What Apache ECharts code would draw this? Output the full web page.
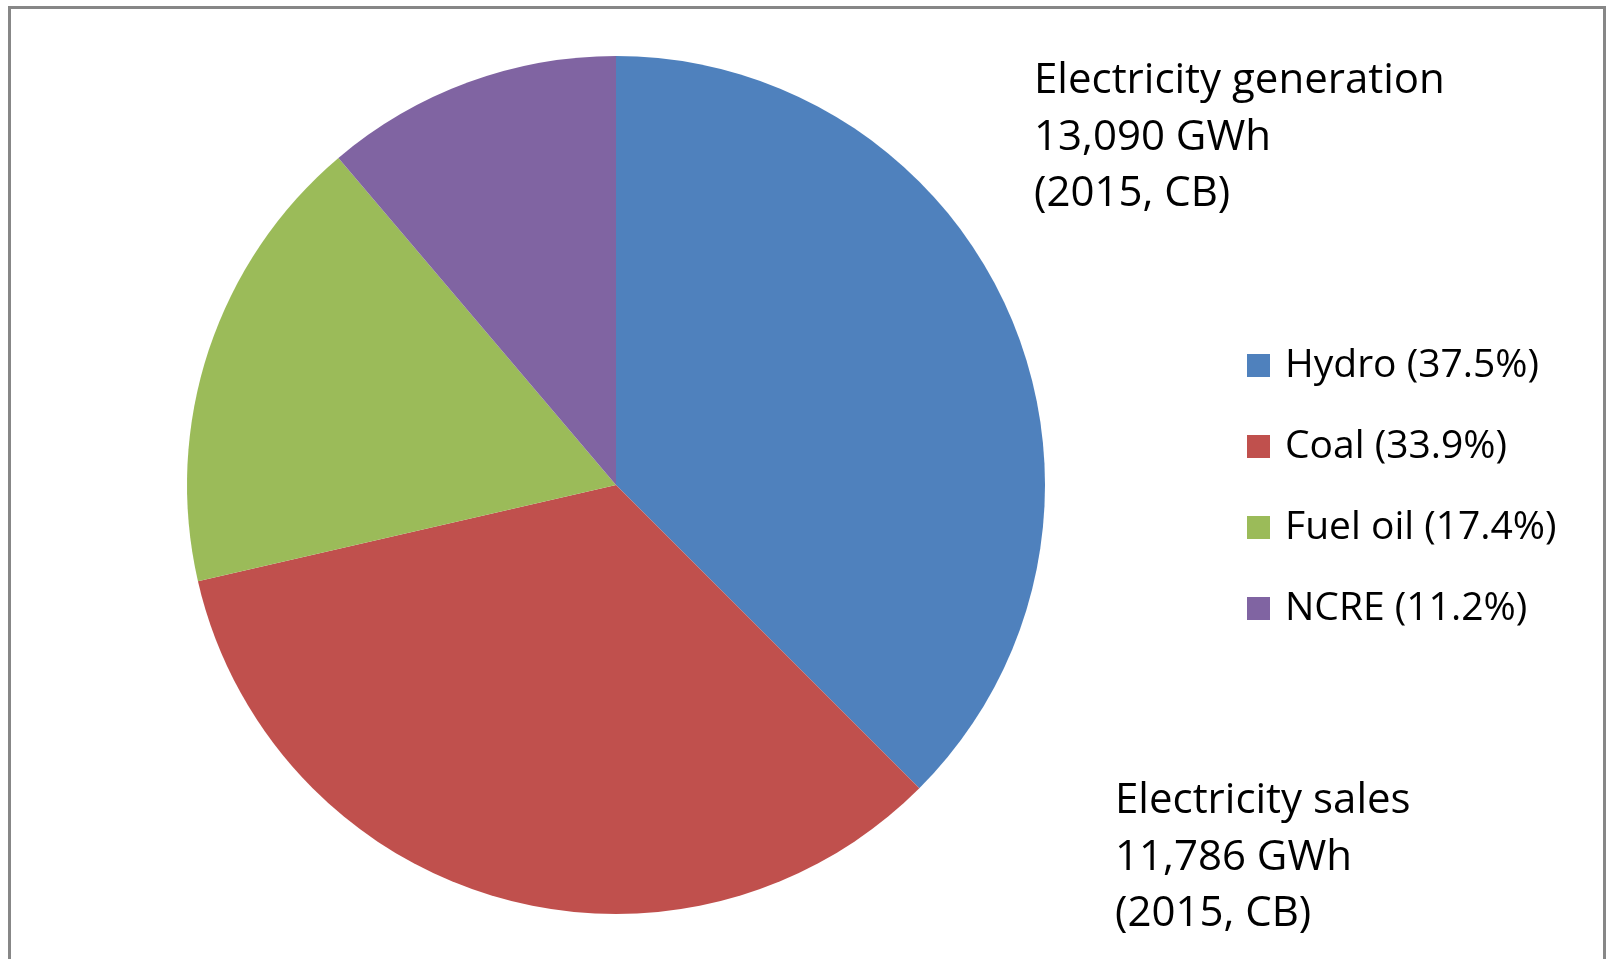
<!DOCTYPE html>
<html>
<head>
<meta charset="utf-8">
<script src="https://cdn.jsdelivr.net/npm/echarts@6/dist/echarts.min.js"></script>
<style>
html,body{margin:0;padding:0;background:#fff;}
#chart{width:1606px;height:959px;}
</style>
</head>
<body>
<div id="chart"></div>
<script>
var categories = ['Hydro', 'Coal', 'Fuel oil', 'NCRE'];
var shares = [37.5, 33.9, 17.4, 11.2];
var colors = ['#4F81BD', '#C0504D', '#9BBB59', '#8064A2'];
var generationNote = ['Electricity generation', '13,090 GWh', '(2015, CB)'];
var salesNote = ['Electricity sales', '11,786 GWh', '(2015, CB)'];

var FONT = 'Open Sans';
var chart = echarts.init(document.getElementById('chart'), null, {renderer: 'canvas'});
var pieData = categories.map(function (c, i) {
  return {name: c, value: shares[i], itemStyle: {color: colors[i]}};
});
chart.setOption({
  animation: false,
  backgroundColor: '#ffffff',
  title: [
    {text: generationNote.join('\n'), left: 1029, top: 48,
     textStyle: {fontFamily: FONT, fontSize: 42, fontWeight: 'normal', color: '#000', lineHeight: 56.5}},
    {text: salesNote.join('\n'), left: 1110, top: 768,
     textStyle: {fontFamily: FONT, fontSize: 42, fontWeight: 'normal', color: '#000', lineHeight: 56.5}}
  ],
  legend: {
    orient: 'vertical',
    left: 1242,
    top: 341,
    itemWidth: 23,
    itemHeight: 23,
    itemGap: 42,
    icon: 'rect',
    selectedMode: false,
    data: categories,
    formatter: function (name) {
      var i = categories.indexOf(name);
      return name + ' (' + shares[i].toFixed(1) + '%)';
    },
    textStyle: {fontFamily: FONT, fontSize: 39, color: '#000', padding: [0, 0, 0, 10]}
  },
  series: [{
    type: 'pie',
    center: [616, 485],
    radius: 429,
    startAngle: 90,
    clockwise: true,
    silent: true,
    label: {show: false},
    labelLine: {show: false},
    itemStyle: {borderWidth: 0},
    emphasis: {disabled: true},
    data: pieData
  }],
  graphic: [{
    type: 'rect',
    shape: {x: 9.5, y: 7.5, width: 1595, height: 1000},
    style: {fill: 'none', stroke: '#878787', lineWidth: 3},
    silent: true,
    z: 100
  }]
});
</script>
</body>
</html>
